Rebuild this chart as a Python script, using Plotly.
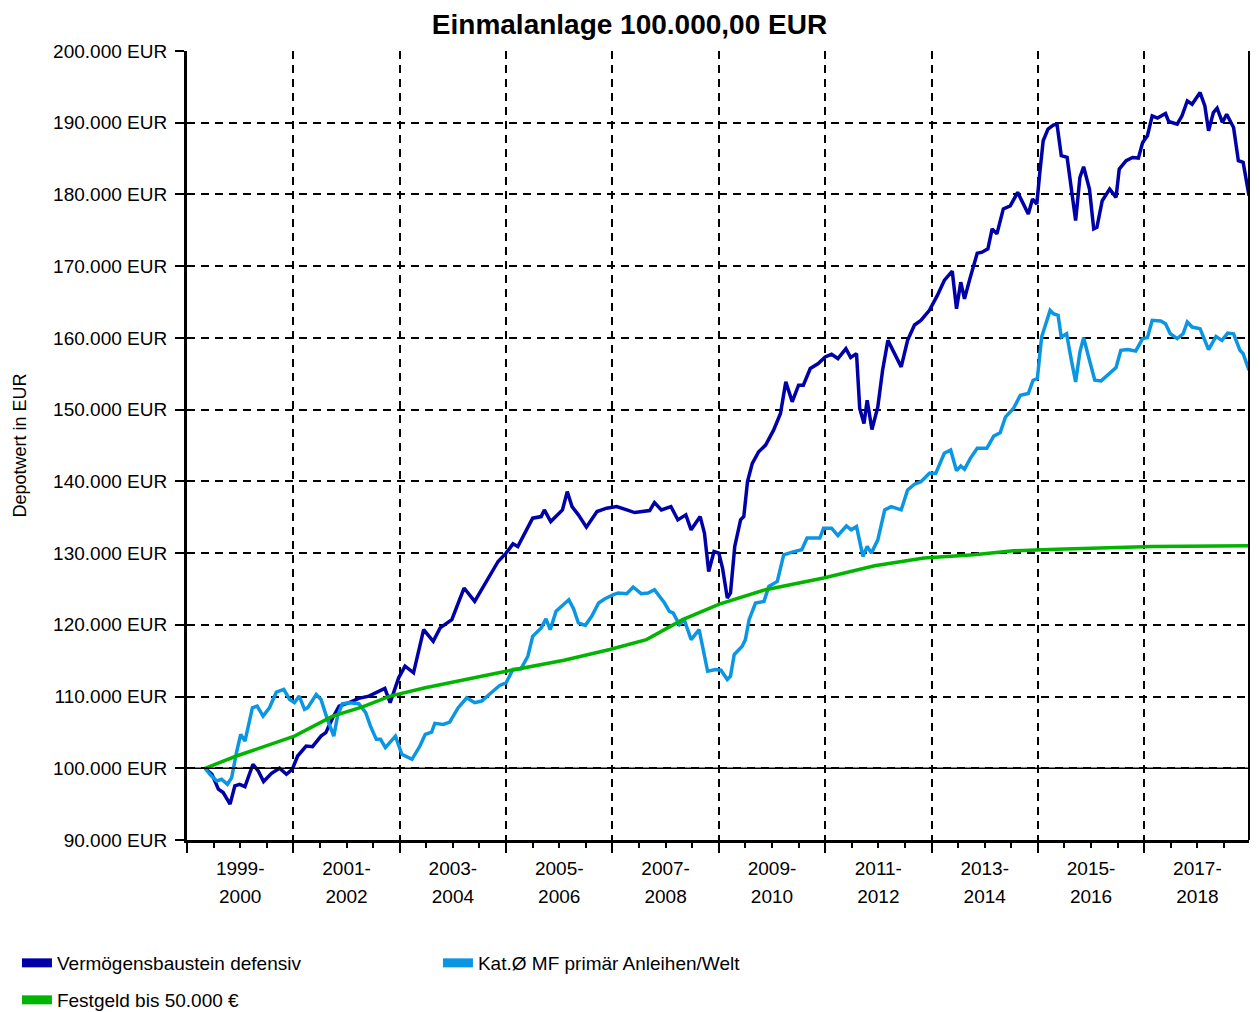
import plotly.graph_objects as go

# ---------------- data (decimal year, EUR) ----------------
vb_years = [1999.34, 1999.47, 1999.59, 1999.68, 1999.81, 1999.90, 1999.99, 2000.09, 2000.24, 2000.34,
            2000.44, 2000.59, 2000.74, 2000.87, 2000.98, 2001.08, 2001.24, 2001.36, 2001.52, 2001.61,
            2001.74, 2001.86, 2002.05, 2002.23, 2002.42, 2002.58, 2002.72, 2002.82, 2002.98, 2003.10,
            2003.26, 2003.45, 2003.63, 2003.76, 2003.98, 2004.10, 2004.21, 2004.41, 2004.63, 2004.85,
            2005.00, 2005.13, 2005.22, 2005.34, 2005.50, 2005.66, 2005.72, 2005.84, 2006.06, 2006.15,
            2006.24, 2006.36, 2006.51, 2006.71, 2006.89, 2007.08, 2007.27, 2007.42, 2007.70, 2007.79,
            2007.92, 2008.10, 2008.23, 2008.38, 2008.48, 2008.65, 2008.73, 2008.81, 2008.91, 2009.00,
            2009.07, 2009.16, 2009.22, 2009.30, 2009.41, 2009.47, 2009.54, 2009.63, 2009.75, 2009.88,
            2010.03, 2010.16, 2010.26, 2010.38, 2010.50, 2010.59, 2010.72, 2010.87, 2011.00, 2011.12,
            2011.24, 2011.39, 2011.48, 2011.59, 2011.65, 2011.73, 2011.79, 2011.88, 2011.99, 2012.08,
            2012.18, 2012.30, 2012.43, 2012.55, 2012.68, 2012.80, 2012.96, 2013.11, 2013.24, 2013.39,
            2013.47, 2013.55, 2013.62, 2013.73, 2013.86, 2013.95, 2014.06, 2014.14, 2014.23, 2014.35,
            2014.48, 2014.62, 2014.73, 2014.82, 2014.90, 2014.98, 2015.04, 2015.10, 2015.19, 2015.29,
            2015.36, 2015.44, 2015.55, 2015.71, 2015.79, 2015.86, 2015.97, 2016.05, 2016.11, 2016.21,
            2016.35, 2016.47, 2016.53, 2016.66, 2016.78, 2016.89, 2016.97, 2017.06, 2017.15, 2017.25,
            2017.40, 2017.46, 2017.62, 2017.71, 2017.81, 2017.90, 2018.05, 2018.14, 2018.21, 2018.30,
            2018.37, 2018.47, 2018.55, 2018.68, 2018.77, 2018.86, 2018.97]
vb_values = [100000, 99170, 97100, 96620, 95000, 97540, 97770, 97450, 100560, 99630,
             98150, 99300, 100000, 99170, 99860, 101710, 103100, 103010, 104490, 104960,
             107050, 108660, 109140, 109740, 110060, 110610, 111130, 109140, 112610, 114230,
             113310, 119330, 117700, 119570, 120720, 123040, 125130, 123270, 126050, 128830,
             130000, 131290, 130920, 132550, 134870, 135090, 136020, 134390, 136020, 138570,
             136480, 135330, 133620, 135790, 136260, 136480, 136020, 135650, 135930, 137040,
             136020, 136480, 134630, 135330, 133240, 135090, 132780, 127440, 130220, 130000,
             127910, 123740, 124440, 130920, 134630, 135090, 139960, 142510, 144130, 145060,
             147140, 149470, 153870, 151090, 153410, 153410, 155730, 156430, 157350, 157720,
             157120, 158510, 157260, 157810, 150170, 148080, 151320, 147230, 150380, 155490,
             159660, 157810, 155960, 159660, 161800, 162450, 163840, 165920, 168010, 169300,
             164070, 167770, 165460, 168470, 171810, 171950, 172420, 175200, 174500, 177980,
             178400, 180290, 178670, 177280, 179360, 178670, 183310, 187480, 189110, 189660,
             189800, 185400, 185160, 176360, 182360, 183860, 180750, 175200, 175420, 179130,
             180750, 179590, 183540, 184700, 185160, 185070, 187250, 188180, 190960, 190640,
             191280, 190170, 189800, 190960, 193040, 192580, 194200, 192350, 188870, 191420,
             192030, 190030, 191180, 189330, 184700, 184470, 179830]

kat_years = [1999.34, 1999.43, 1999.56, 1999.65, 1999.76, 1999.84, 1999.93, 2000.01, 2000.09, 2000.23,
             2000.32, 2000.43, 2000.55, 2000.68, 2000.82, 2000.93, 2001.02, 2001.11, 2001.21, 2001.27,
             2001.43, 2001.52, 2001.64, 2001.76, 2001.83, 2001.92, 2002.05, 2002.23, 2002.36, 2002.45,
             2002.56, 2002.64, 2002.73, 2002.92, 2003.04, 2003.23, 2003.38, 2003.48, 2003.60, 2003.66,
             2003.82, 2003.94, 2004.10, 2004.26, 2004.41, 2004.54, 2004.72, 2004.88, 2005.00, 2005.13,
             2005.28, 2005.41, 2005.50, 2005.66, 2005.75, 2005.83, 2005.94, 2006.09, 2006.18, 2006.27,
             2006.36, 2006.49, 2006.61, 2006.74, 2006.86, 2007.02, 2007.11, 2007.27, 2007.39, 2007.54,
             2007.67, 2007.79, 2007.89, 2007.98, 2008.07, 2008.14, 2008.26, 2008.35, 2008.48, 2008.63,
             2008.79, 2008.94, 2009.04, 2009.16, 2009.22, 2009.29, 2009.44, 2009.50, 2009.57, 2009.69,
             2009.85, 2009.94, 2010.10, 2010.22, 2010.38, 2010.56, 2010.66, 2010.90, 2010.97, 2011.12,
             2011.24, 2011.40, 2011.49, 2011.59, 2011.71, 2011.79, 2011.87, 2011.99, 2012.12, 2012.24,
             2012.43, 2012.55, 2012.68, 2012.80, 2012.96, 2013.08, 2013.24, 2013.36, 2013.47, 2013.55,
             2013.62, 2013.73, 2013.86, 2014.04, 2014.17, 2014.29, 2014.39, 2014.54, 2014.67, 2014.82,
             2014.91, 2014.99, 2015.07, 2015.23, 2015.29, 2015.38, 2015.44, 2015.54, 2015.63, 2015.71,
             2015.79, 2015.86, 2015.97, 2016.07, 2016.19, 2016.35, 2016.47, 2016.56, 2016.69, 2016.84,
             2016.97, 2017.06, 2017.15, 2017.31, 2017.40, 2017.49, 2017.62, 2017.73, 2017.81, 2017.90,
             2018.05, 2018.21, 2018.35, 2018.46, 2018.57, 2018.68, 2018.80, 2018.86, 2018.97]
kat_values = [100000, 99170, 98240, 98470, 97770, 98700, 102180, 104730, 103800, 108440,
              108660, 107270, 108440, 110610, 110990, 109600, 109140, 110060, 108210, 108440,
              110290, 109600, 106820, 104490, 107270, 109000, 109140, 109000, 107750, 105880,
              104030, 104030, 102880, 104490, 101950, 101250, 103100, 104730, 105050, 106260,
              106120, 106440, 108440, 109830, 109140, 109370, 110530, 111540, 111920, 113770,
              113860, 115620, 118400, 119570, 120820, 119330, 121880, 122810, 123500, 122200,
              120260, 119930, 121180, 123040, 123640, 124200, 124440, 124340, 125270, 124340,
              124440, 124900, 123890, 123040, 121880, 121650, 120030, 120720, 117940, 119330,
              113530, 113770, 113670, 112380, 112840, 115860, 117010, 117940, 120720, 123040,
              123270, 125350, 126050, 129760, 130130, 130460, 132090, 132090, 133480, 133480,
              132450, 133800, 133240, 133700, 129530, 130920, 130000, 131850, 136020, 136480,
              136020, 138800, 139600, 139960, 141120, 141120, 143910, 144370, 141490, 142140,
              141680, 143210, 144600, 144600, 146310, 146770, 148960, 150150, 152000, 152250,
              154100, 154330, 160120, 163840, 163370, 163140, 160120, 160580, 156890, 153870,
              158040, 160040, 156890, 154100, 154010, 155030, 155870, 158270, 158370, 158180,
              159900, 160040, 162450, 162350, 161980, 160580, 159900, 160580, 162210, 161510,
              161290, 158370, 160210, 159660, 160670, 160580, 158270, 157810, 155490]

fg_years = [1999.34, 1999.93, 2001.02, 2001.74, 2002.30, 2002.82, 2003.48, 2005.00, 2006.09, 2006.95,
            2007.64, 2008.32, 2009.01, 2009.50, 2009.88, 2010.97, 2011.93, 2012.86, 2013.80, 2014.54,
            2015.35, 2017.15, 2018.96]
fg_values = [100000, 101710, 104490, 107270, 108570, 110060, 111220, 113530, 115060, 116550,
             117940, 120720, 122900, 123970, 124900, 126520, 128230, 129300, 129760, 130320,
             130550, 130920, 131010]

series_names = ["Vermögensbaustein defensiv", "Kat.Ø MF primär Anleihen/Welt", "Festgeld bis 50.000 €"]
series_colors = ["#0000A8", "#0A96E2", "#00B400"]

y_tickvals = list(range(90000, 200001, 10000))
y_ticktext = [f"{v:,}".replace(",", ".") + " EUR" for v in y_tickvals]
x_major = list(range(1999, 2018, 2))
x_label_pos = list(range(2000, 2019, 2))
x_label_top = [f"{y - 1}-" for y in x_label_pos]
x_label_bottom = [f"{y}" for y in x_label_pos]

FONT = "Liberation Sans, Arial, sans-serif"
W, H = 1243, 1004   # page body keeps an 8px margin on every side

fig = go.Figure()
series = [(vb_years, vb_values), (kat_years, kat_values), (fg_years, fg_values)]
for (yrs, vals), name, col in zip(series, series_names, series_colors):
    fig.add_trace(go.Scatter(x=yrs, y=vals, mode="lines", name=name, showlegend=False,
                             line=dict(color=col, width=3.5)))

# legend entries (rectangular swatches)
for i, (name, col) in enumerate(zip(series_names, series_colors)):
    fig.add_trace(go.Scatter(x=[None], y=[None], mode="lines", name=name,
                             line=dict(color=col, width=9),
                             legend="legend" if i < 2 else "legend2"))

# dummy traces for the two label axes
fig.add_trace(go.Scatter(x=[x_label_pos[0]], y=[100000], xaxis="x2", mode="markers",
                         marker=dict(opacity=0), showlegend=False, hoverinfo="skip"))
fig.add_trace(go.Scatter(x=[x_label_pos[0]], y=[100000], xaxis="x3", mode="markers",
                         marker=dict(opacity=0), showlegend=False, hoverinfo="skip"))

grid = dict(showgrid=True, gridcolor="black", gridwidth=2, griddash="8px,6px")
label_axis = dict(range=[1999, 2018.97], overlaying="x", side="bottom", anchor="y",
                  tickvals=x_label_pos, ticks="", showgrid=False, showline=False,
                  zeroline=False, tickfont=dict(size=19, family=FONT))

fig.update_layout(
    width=W, height=H,
    margin=dict(l=179, r=2, t=43, b=H - 43 - 789, autoexpand=False),
    paper_bgcolor="white", plot_bgcolor="white",
    font=dict(family=FONT, color="black", size=19),
    title=dict(text="<b>Einmalanlage 100.000,00 EUR</b>", x=0.5, xref="container", xanchor="center",
               y=1 - 16 / H, yref="container", yanchor="middle",
               font=dict(size=28, family=FONT, color="black")),
    xaxis=dict(range=[1999, 2018.97], tickvals=x_major, showticklabels=False,
               ticks="outside", ticklen=10, tickwidth=2, tickcolor="black",
               showline=True, linewidth=3, linecolor="black", zeroline=False,
               minor=dict(ticks="outside", ticklen=5, tickwidth=1.5, tickcolor="black",
                          dtick=0.5, tick0=1999, showgrid=False), **grid),
    xaxis2=dict(ticktext=x_label_top, ticklabelstandoff=15, **label_axis),
    xaxis3=dict(ticktext=x_label_bottom, ticklabelstandoff=43, **label_axis),
    yaxis=dict(range=[90000, 200000], tickvals=y_tickvals, ticktext=y_ticktext,
               ticks="outside", ticklen=9, tickwidth=2, tickcolor="black",
               showline=True, linewidth=3, linecolor="black", zeroline=False,
               ticklabelstandoff=4,
               title=dict(text="Depotwert in EUR", font=dict(size=18, family=FONT), standoff=22),
               **grid),
    legend=dict(orientation="h", xref="container", x=0.0072, yref="container",
                y=1 - 936 / H, yanchor="top", xanchor="left",
                entrywidth=376, entrywidthmode="pixels",
                font=dict(size=19, family=FONT), traceorder="normal"),
    legend2=dict(orientation="h", xref="container", x=0.0072, yref="container",
                 y=1 - 973 / H, yanchor="top", xanchor="left",
                 font=dict(size=19, family=FONT)),
)

fig.add_shape(type="line", xref="paper", yref="y", x0=0, x1=1, y0=100000, y1=100000,
              line=dict(color="black", width=1.5), layer="above")
fig.add_shape(type="line", xref="paper", yref="paper", x0=1, x1=1, y0=0, y1=1,
              line=dict(color="black", width=2))

fig.write_html("out.html")
